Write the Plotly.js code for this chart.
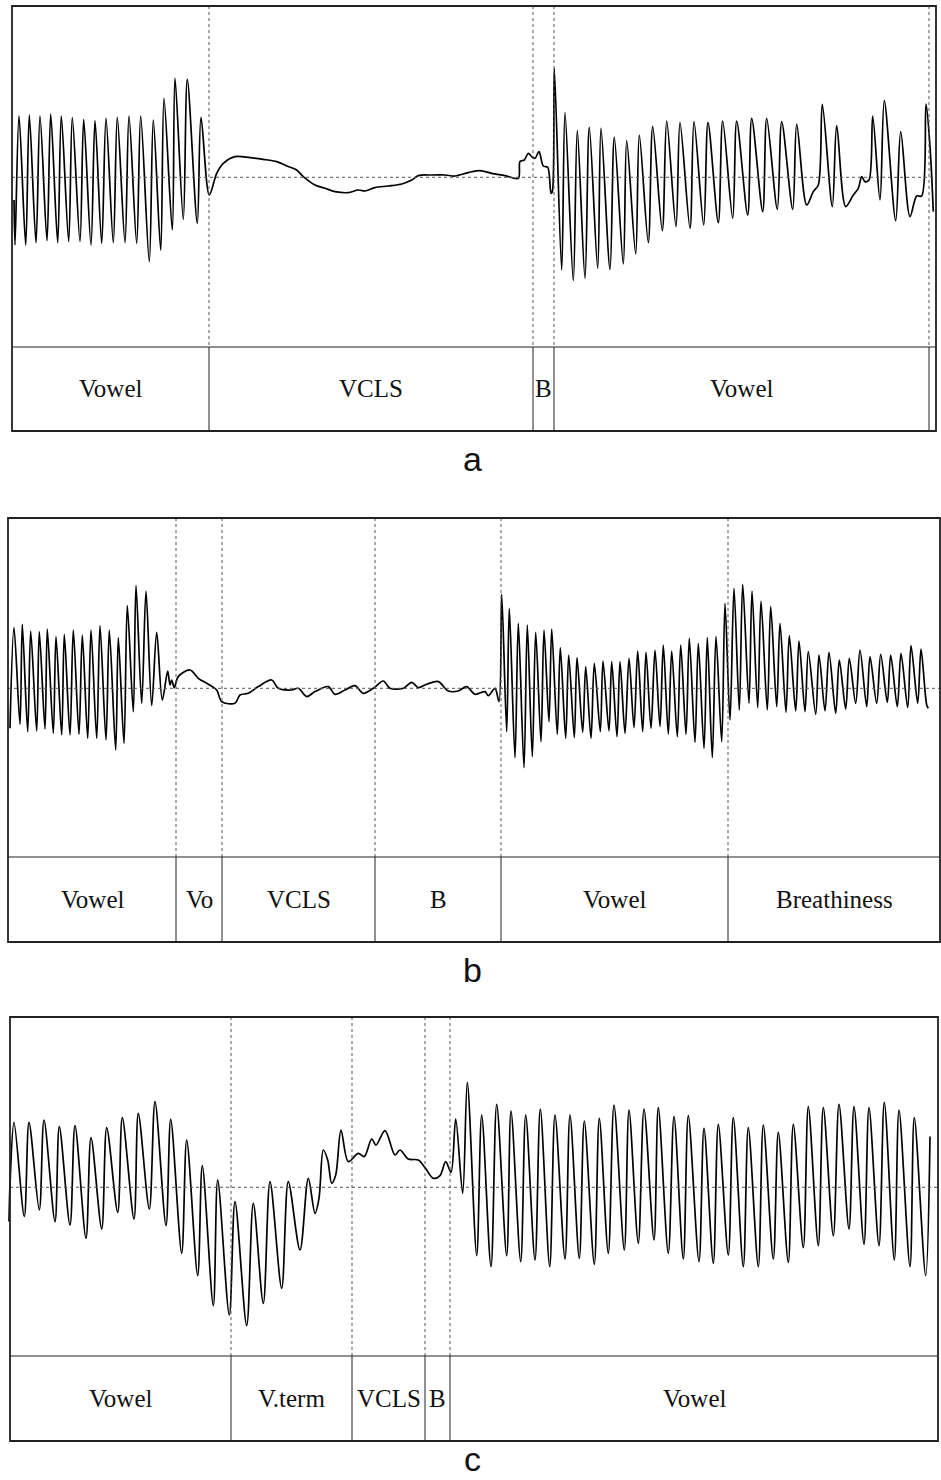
<!DOCTYPE html>
<html><head><meta charset="utf-8">
<script src="https://cdn.plot.ly/plotly-3.0.1.min.js"></script>
<style>html,body{margin:0;padding:0;background:#fff}#chart{width:941px;height:1480px}</style>
</head><body><div id="chart"></div>
<script>
// ---- Panel a waveform (time in px units, amplitude relative to baseline) ----
const aTime = [14,15,19,25.7,29.3,36,40,47,50.7,57.7,61.3,68.7,72.3,80,83.7,91,95,101.7,106,113.3,117.3,125,129,136.7,140.7,149.3,153.3,160.7,164,172.3,175,183.3,187.3,197.3,201,209.3,216.7,223.3,235,250,263.3,276.7,286.7,296.7,303.3,315,
 325,335,348.3,358.3,365,375,388.3,401.7,411.7,418.3,431.7,445,455,468.3,480,491.7,505,518.3,520,524.3,528.3,531.7,535,539,543.3,547.7,551,552.3,554.3,561.7,565,573.3,577.3,585,589.3,597.7,601,610,614.3,623.3,
 626.7,635.7,639.3,648.3,652.7,662.3,666.7,676,680,690,694,703.7,708,718.3,722.7,732.7,736.7,747.7,751.7,762.7,766.7,777.3,781.7,792.7,796.7,806.7,813.3,818.3,822.3,832.3,836.7,845.7,853.3,858.3,861.7,865,869,872.7,880,884.3,895.7,900.7,910,916.7,921.7,926,930,933.3];
const aAmp = [-22.7,-67.7,61.3,-67.7,62.3,-65.3,61.3,-63.3,63.3,-65.3,61.3,-64.3,59.7,-64.3,58,-67.7,56.7,-66,59,-65.3,60,-65.3,61.3,-66,61.3,-84.3,57.3,-72.7,79,-52.7,99,-42,98,-46,60,-17.7,4,14,20.7,19.7,18,15.7,11.3,7.3,0.7,-7.7,
 -11,-14.3,-15.3,-12.7,-13.7,-10.3,-8.7,-6.7,-2.7,1.7,2.3,2.3,1.3,4.7,6.7,4,1.7,-1,15.7,17.3,24,20.7,19,25.7,11.3,10,-16,-14.3,109,-92.7,64.7,-103.3,46.7,-101,50,-91,49,-92,40,-86.7,
 36.7,-76.7,42.3,-65.3,50.7,-53.3,56.3,-49.3,54.7,-51,55.7,-47.7,54.7,-45.3,56.3,-41,56.3,-37.7,59,-34.3,59,-32,55.7,-32,53.3,-27.7,-14.3,-7.7,73,-29.3,51.7,-29.3,-17.7,-11,0.7,-4.3,-2.7,61.3,-22.7,76.7,-43.3,45.7,-39.3,-18.7,-18.7,73.3,30.7,-34.3];
// ---- Panel b waveform ----
const bTime = [10,14,20,22.3,27.7,30.7,36.7,39.3,45,47.3,53.3,56,61.7,64.3,70,73.3,79,82.3,87.7,91,96.7,100,106,109.3,115.7,118.3,124,127.3,133.3,136,141.7,146,151.7,156.7,162.3,167.7,170,171.7,174.3,178.3,190,198.3,208.3,216.7,221.7,235,240,248.3,258.3,271.7,278.3,291.7,298.3,306.7,
 315,328.3,335,345,355,363.3,373.3,383.3,390,403.3,411.7,418.3,426.7,438.3,448.3,458.3,466.7,475,485,488.3,495,499,501.7,506.7,509.3,515,518.3,524,527.3,532.3,535.7,541,544,549,551.7,557.3,560.3,565.7,568.7,574.3,577,582.7,585.7,591,594.3,600.3,603,609,611.7,617,620,
 625,629,634,637.7,642.7,646,651,655,660,663.3,668.3,671.7,677.3,680.7,686,689.3,695,698.3,704,707.3,712.3,716,721.7,725,730,734,739.3,742.7,749,752,757.7,761,767.3,770.7,776.7,780,786,789.3,795.7,799,805,808.3,815.7,819,825,829,835.7,839.3,845.7,849.3,855.7,860,866.7,870,876.7,880.7,887.3,890.7,897.3,901,907.7,911,917.7,921,926.7,928.3];
const bAmp = [-40,60.7,-36,64,-43.3,57.3,-42.7,56.7,-40.7,59.3,-45,51.7,-46.7,54,-46.7,58.3,-46,53.3,-50,58.3,-50,62.7,-51.7,58.3,-61.7,50.7,-55,82.7,-23.3,102.7,-15,97.3,-17.3,56,-11.7,17.3,3.3,8.3,0.7,11.7,18.3,10,4,-1.7,-13.3,-15,-6.7,-5,1.7,8.3,0,-1.7,0,-8.3,
 -3.3,1.7,-6,-1.7,2.7,-5,0,7.3,0,0,6,0.7,4,6.7,-2.7,-2.7,1.7,-6,-3.3,-7.3,0,-13.3,94,-43.3,80,-69.3,65,-79.3,63.3,-68.3,56,-53.3,58.3,-33.3,59.3,-46,40.7,-50,33.3,-49.3,30.7,-44,21.7,-50,25,-43.3,27.3,-42.7,26.7,-48.3,26.7,
 -45,30,-39.3,37.3,-43.3,36,-40,38.3,-38.3,43.3,-46,37.3,-48.3,43.3,-46,50,-54,45,-60,50.7,-69.3,51.7,-53.3,85,-31.7,100,-21.7,104,-15,97.3,-19.3,87.3,-21.7,81.7,-18.3,65,-24,52.7,-22.7,47.3,-23.3,36.7,-26,33.3,-22.7,36,-25,28.3,-20.7,30,-15,38.3,-18.3,31.7,-15,34,-14,33.3,-18.3,35,-19.3,42.7,-15,39.3,-16.7,-20];
// ---- Panel c waveform ----
const cTime = [9,10,14,24.3,29,39.3,44,55,59.3,70,75,86,91,101.7,106.7,117.7,122.3,134,138.3,149.3,155,166,170.7,181.7,186.7,197.7,202.3,213.3,217.7,229.3,235,246.7,253.3,263.3,270,281.7,288.3,300,308.3,315,
 319,323.3,327.7,331.7,335.7,341,348.3,358.3,364.3,371.7,376,385,395,400,408.3,418.3,425,433.3,440,445.7,451,455.7,462.7,467.3,476.7,481.7,491,496.7,506.7,511,520.7,525.7,535,540.3,549.7,555,565,570,579.3,584.3,594.3,599.3,608.3,614,624.3,
 629,638.3,644,654,658.3,668.3,674,683.3,688.3,699,704,713.3,718.3,728.3,733.3,743.3,748.3,758.3,763.3,773.3,778.3,788.3,793.3,803.3,808.3,818.3,823.3,833.3,839,849,854,864,869,879,884.3,894.3,899,910,914.3,925.7,930];
const cAmp = [-34.3,2.3,65,-29.3,65,-22.7,67.3,-34.3,60.7,-37.7,61.7,-51,49.7,-41.7,59.7,-25,69.7,-31.7,74,-21.7,85.7,-38.3,68,-66,47.3,-88.3,21.7,-118.3,7.3,-127.7,-14.3,-138.3,-16,-116,5.7,-101,5.7,-62.7,9,-26,
 -11,37.3,27.3,4,12.3,57.3,25.7,34,30.7,48.3,42.3,56.7,32.3,37.3,28.3,27.3,19.7,9,11.7,25.7,15,68.3,-6,105,-68.3,72.3,-79.3,83,-68.3,76.3,-74.3,72.3,-72.7,78.3,-79.3,72.3,-71.7,72.3,-71,66.3,-77,69,-66,82.3,-62.7,
 77.3,-56,78.3,-52.7,79.7,-66,70.7,-71.7,71.7,-74.3,59,-76,63,-67.7,69.7,-79.3,59.7,-79.3,62.3,-71.7,55,-75,63,-60.3,80.7,-58.3,79.7,-48.3,83,-41.7,80.7,-57,79.7,-58.3,85,-72.7,77.3,-79.3,69.7,-88.3,50.7];

// ---- Segment boundaries and labels ----
const aBounds = [209, 533, 554, 929];
const aLabels = ["Vowel", "VCLS", "B", "Vowel"];
const bBounds = [176, 222, 375, 501, 728];
const bLabels = ["Vowel", "Vo", "VCLS", "B", "Vowel", "Breathiness"];
const cBounds = [231, 352, 425, 450];
const cLabels = ["Vowel", "V.term", "VCLS", "B", "Vowel"];
const panelLetters = ["a", "b", "c"];

// ---- Layout geometry (screen px) ----
const W = 941, H = 1480;
const panels = [
  {time: aTime, amp: aAmp, bounds: aBounds, labels: aLabels, left: 12, right: 936, top: 6, mid: 347, bottom: 431, base: 177.3, letterBase: 479},
  {time: bTime, amp: bAmp, bounds: bBounds, labels: bLabels, left: 8, right: 940, top: 518, mid: 857, bottom: 942, base: 688.3, letterBase: 990},
  {time: cTime, amp: cAmp, bounds: cBounds, labels: cLabels, left: 10, right: 938, top: 1017, mid: 1356, bottom: 1441, base: 1187.3, letterBase: 1479}
];
const px = x => x / W;
const py = y => 1 - y / H;

const traces = [], shapes = [], annotations = [];
const layout = {
  width: W, height: H, margin: {l: 0, r: 0, t: 0, b: 0},
  paper_bgcolor: '#fff', plot_bgcolor: 'rgba(0,0,0,0)', showlegend: false,
  shapes: shapes, annotations: annotations
};
const boxCol = '#222', dotCol = '#555';

panels.forEach((p, i) => {
  const sfx = i === 0 ? '' : String(i + 1);
  const xa = 'xaxis' + sfx, ya = 'yaxis' + sfx;
  layout[xa] = {domain: [0, 1], range: [0, W], visible: false, fixedrange: true};
  layout[ya] = {domain: [py(p.mid), py(p.top)], range: [-(p.mid - p.base), p.base - p.top], visible: false, fixedrange: true};
  traces.push({
    type: 'scatter', mode: 'lines', x: p.time, y: p.amp,
    xaxis: 'x' + sfx, yaxis: 'y' + sfx,
    line: {color: '#000', width: 1.7, shape: 'spline', smoothing: 0.9},
    hoverinfo: 'skip'
  });
  // baseline dotted
  shapes.push({type: 'line', xref: 'paper', yref: 'paper', x0: px(p.left), x1: px(p.right), y0: py(p.base), y1: py(p.base), line: {color: dotCol, width: 1, dash: 'dot'}});
  // segment boundaries: dotted above, solid in label row
  p.bounds.forEach(b => {
    shapes.push({type: 'line', xref: 'paper', yref: 'paper', x0: px(b), x1: px(b), y0: py(p.top), y1: py(p.mid), line: {color: dotCol, width: 1, dash: 'dot'}});
    shapes.push({type: 'line', xref: 'paper', yref: 'paper', x0: px(b), x1: px(b), y0: py(p.mid), y1: py(p.bottom), line: {color: boxCol, width: 1}});
  });
  // outer box and label row separator
  shapes.push({type: 'rect', xref: 'paper', yref: 'paper', x0: px(p.left), x1: px(p.right), y0: py(p.bottom), y1: py(p.top), line: {color: boxCol, width: 1.8}});
  shapes.push({type: 'line', xref: 'paper', yref: 'paper', x0: px(p.left), x1: px(p.right), y0: py(p.mid), y1: py(p.mid), line: {color: boxCol, width: 1.2}});
  // labels centred in segments
  const edges = [p.left].concat(p.bounds);
  p.labels.forEach((lab, k) => {
    const x0 = edges[k], x1 = k + 1 < edges.length ? edges[k + 1] : p.right;
    annotations.push({xref: 'paper', yref: 'paper', x: px((x0 + x1) / 2), y: py((p.mid + p.bottom) / 2), text: lab, showarrow: false,
      xanchor: 'center', yanchor: 'middle', font: {family: 'Liberation Serif, Times New Roman, serif', size: 25, color: '#111'}});
  });
  annotations.push({xref: 'paper', yref: 'paper', x: px(472), y: py(p.letterBase), text: panelLetters[i], showarrow: false,
    xanchor: 'center', yanchor: 'bottom', borderpad: 0,
    font: {family: 'Liberation Sans, Arial, sans-serif', size: 34, color: '#111'}});
});

Plotly.newPlot('chart', traces, layout, {staticPlot: true, displayModeBar: false});
</script></body></html>
